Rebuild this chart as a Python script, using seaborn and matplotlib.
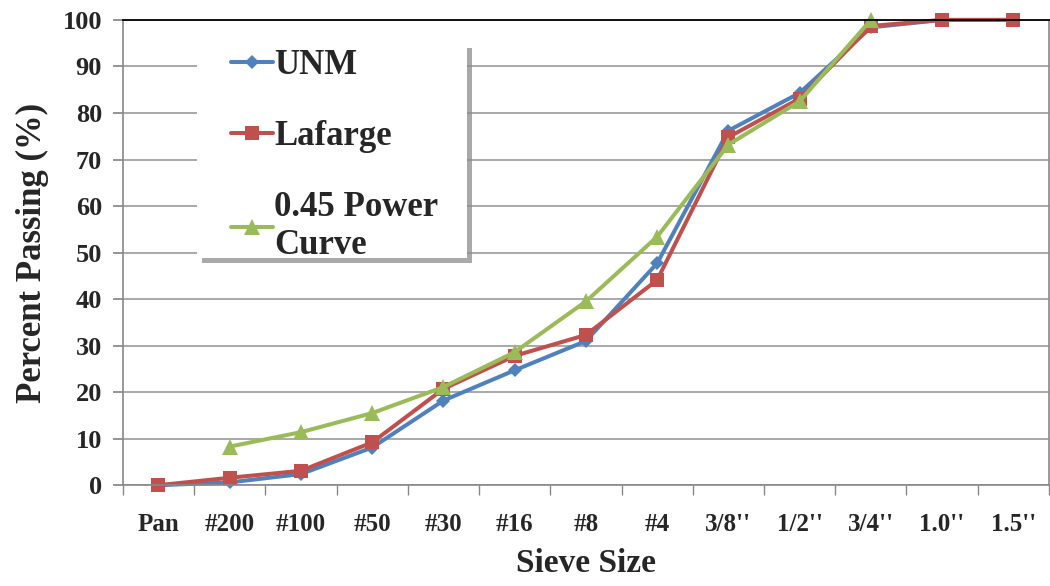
import matplotlib
matplotlib.use("Agg")
import matplotlib.pyplot as plt
import matplotlib.patches as mpatches
import seaborn as sns
import pandas as pd
import numpy as np
from matplotlib.ticker import FixedLocator

sieves = ["Pan", "#200", "#100", "#50", "#30", "#16", "#8", "#4",
          "3/8''", "1/2''", "3/4''", "1.0''", "1.5''"]
unm = [0, 0.6, 2.4, 8.1, 18.2, 24.7, 31.0, 47.7, 76.2, 84.3, 98.4, 100, 100]
lafarge = [0, 1.6, 3.1, 9.2, 20.7, 27.8, 32.3, 44.1, 74.8, 83.1, 98.7, 100, 100]
power = [np.nan, 8.3, 11.4, 15.5, 21.1, 28.6, 39.5, 53.4, 73.2, 82.5, 100.0, np.nan, np.nan]

series_names = ["UNM", "Lafarge", "0.45 Power\nCurve"]
series_vals = [unm, lafarge, power]

rows = []
for name, vals in zip(series_names, series_vals):
    for i, (s, v) in enumerate(zip(sieves, vals)):
        rows.append({"pos": i, "Sieve": s, "Series": name, "Percent": v})
df = pd.DataFrame(rows).dropna()

sns.set_theme(style="white")
plt.rcParams['font.family'] = ['Liberation Serif', 'DejaVu Serif']
plt.rcParams['font.weight'] = 'bold'

fig = plt.figure(figsize=(10.5, 5.86), dpi=100)
ax = fig.add_axes([0.117, 0.172, 0.882, 0.794])

palette = {"UNM": "#4F81BD", "Lafarge": "#C0504D", "0.45 Power\nCurve": "#9BBB59"}
markers = {"UNM": "D", "Lafarge": "s", "0.45 Power\nCurve": "^"}
sizes = {"UNM": 7.5, "Lafarge": 10, "0.45 Power\nCurve": 11}

for name in series_names:
    sub = df[df["Series"] == name]
    sns.lineplot(data=sub, x="pos", y="Percent", ax=ax, color=palette[name],
                 marker=markers[name], markersize=sizes[name], linewidth=2.9,
                 markeredgewidth=0, label=name, sort=False, clip_on=False)

ax.set_xlim(-0.5, len(sieves) - 0.5)
ax.set_ylim(0, 100)
ax.set_yticks(np.arange(0, 101, 10))
ax.set_xticks(range(len(sieves)))
ax.set_xticklabels(sieves)
ax.xaxis.set_minor_locator(FixedLocator(np.arange(-0.5, len(sieves), 1)))
ax.tick_params(axis='x', which='major', length=0, pad=20, labelsize=18)
ax.tick_params(axis='x', which='minor', length=7, color='#888888', direction='out', bottom=True)
ax.tick_params(axis='y', which='major', length=7, color='#888888', direction='out', left=True, labelsize=19, pad=8)
for lab in ax.get_xticklabels() + ax.get_yticklabels():
    lab.set_fontweight('bold')

ax.grid(axis='y', color='#9a9a9a', linewidth=1.2)
ax.set_axisbelow(True)
for sp in ['left', 'right', 'bottom']:
    ax.spines[sp].set_color('#888888')
    ax.spines[sp].set_linewidth(1.2)
ax.spines['top'].set_color('#000000')
ax.spines['top'].set_linewidth(1.3)

ax.set_xlabel("Sieve Size", fontsize=24, fontweight='bold', labelpad=9)
ax.set_ylabel("Percent Passing (%)", fontsize=25, fontweight='bold', labelpad=10)

# legend background box with shadow (figure pixel coords)
W, H = 1050, 586
bx0, by0, bx1, by1 = 197, 43, 467, 258
sh = 5
shadow = mpatches.Rectangle(((bx0 + sh) / W, 1 - (by1 + sh) / H), (bx1 - bx0) / W, (by1 - by0) / H,
                            transform=fig.transFigure, facecolor='#8c8c8c', edgecolor='none',
                            alpha=0.75, zorder=4.9)
rect = mpatches.Rectangle((bx0 / W, 1 - by1 / H), (bx1 - bx0) / W, (by1 - by0) / H,
                          transform=fig.transFigure, facecolor='white', edgecolor='none',
                          zorder=5)
ax.add_patch(shadow)
ax.add_patch(rect)

leg = ax.legend(loc='upper left', bbox_to_anchor=(224 / W, 1 - 42 / H),
                bbox_transform=fig.transFigure, frameon=False, fontsize=25,
                handlelength=1.2, handletextpad=0.05, labelspacing=1.1,
                borderpad=0.2, borderaxespad=0)
leg.set_zorder(6)
for t in leg.get_texts():
    t.set_fontweight('bold')

fig.savefig("out.png", dpi=100)
